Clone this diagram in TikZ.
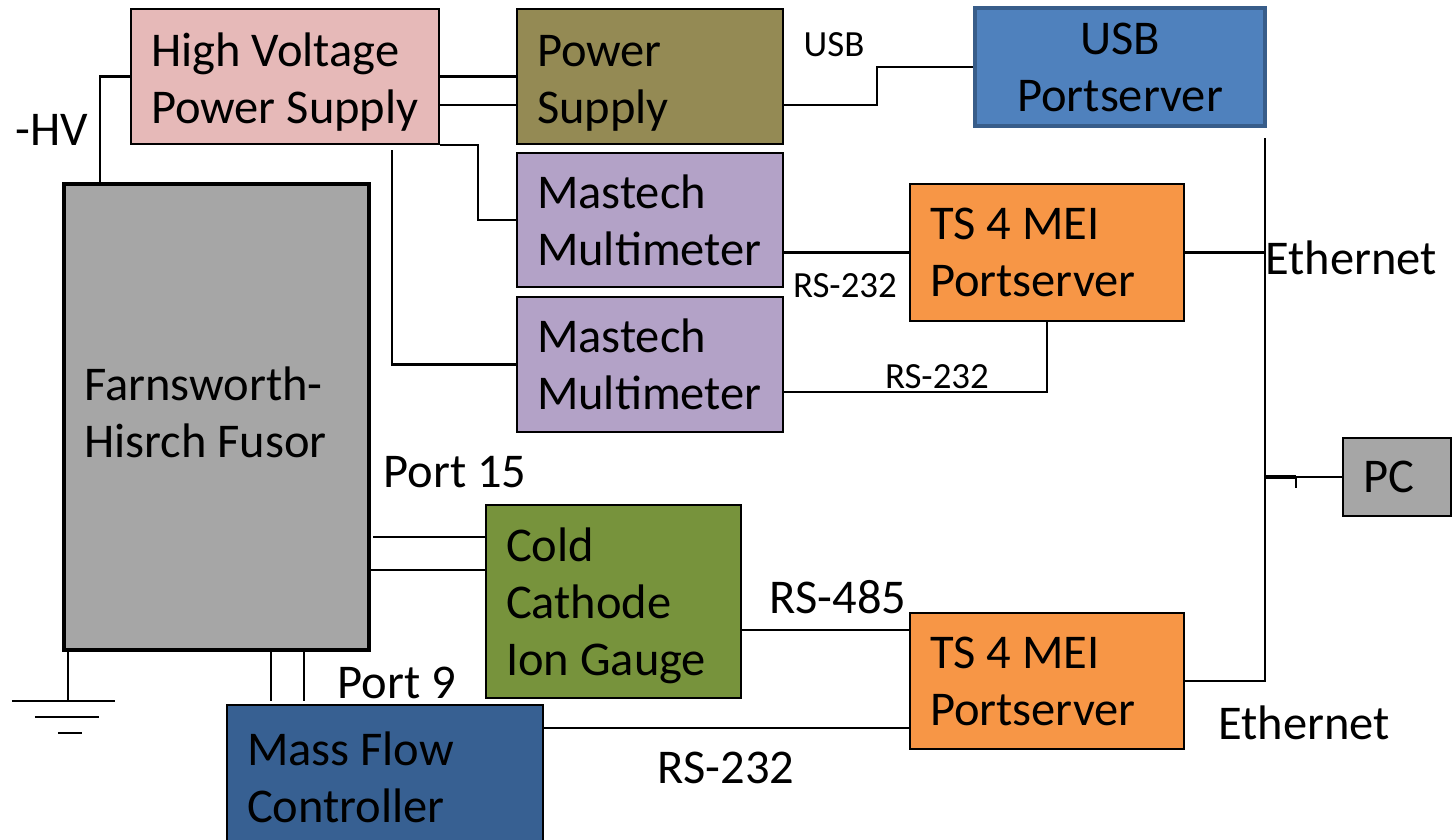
\documentclass[tikz,border=0pt]{standalone}
\usepackage{fontspec}
\setmainfont{Carlito}
\definecolor{hvpink}{HTML}{E6B9B8}
\definecolor{olive}{HTML}{948A54}
\definecolor{mastech}{HTML}{B3A2C7}
\definecolor{tsorange}{HTML}{F79646}
\definecolor{usbblue}{HTML}{4F81BD}
\definecolor{usbedge}{HTML}{385D8A}
\definecolor{mfcblue}{HTML}{376092}
\definecolor{gauge}{HTML}{77933C}
\definecolor{fusorgray}{HTML}{A6A6A6}
\tikzset{
	blk/.style={draw=black,line width=0.6pt,inner xsep=0.2cm,inner ysep=0pt,align=flush left,font=\fontsize{13.8}{16.2}\selectfont},
	lbl/.style={inner sep=0pt,font=\fontsize{13.8}{16.2}\selectfont},
	slbl/.style={inner sep=0pt,font=\fontsize{10.5}{12.6}\selectfont},
	wire/.style={line width=0.6pt}
}
\begin{document}
\begin{tikzpicture}[y=-1cm,line join=miter]
		\useasboundingbox (0,0) rectangle (14.53,8.39);
		% boxes
		\node[blk,fill=hvpink,text width=2.68cm,text height=0.44cm,minimum height=1.35cm] (hvps) at (2.85,0.765) {High Voltage\\Power Supply};
		\node[blk,fill=olive,text width=2.26cm,text height=0.44cm,minimum height=1.35cm] (psu) at (6.50,0.765) {Power\\Supply};
		\node[blk,fill=usbblue,draw=usbedge,line width=0.9pt,align=center,text width=2.50cm,minimum height=1.18cm] (usbps) at (11.20,0.67) {USB\\Portserver};
		\node[blk,fill=mastech,text width=2.26cm,minimum height=1.34cm] (mm1) at (6.50,2.20) {Mastech\\Multimeter};
		\node[blk,fill=mastech,text width=2.26cm,minimum height=1.35cm] (mm2) at (6.50,3.645) {Mastech\\Multimeter};
		\node[blk,fill=tsorange,text width=2.34cm,minimum height=1.37cm] (ts1) at (10.47,2.525) {TS 4 MEI\\Portserver};
		\node[blk,fill=tsorange,text width=2.34cm,minimum height=1.36cm] (ts2) at (10.47,6.81) {TS 4 MEI\\Portserver};
		\node[blk,fill=fusorgray,text width=0.68cm,minimum height=0.78cm] (pc) at (13.97,4.77) {PC};
		\node[blk,fill=fusorgray,line width=1.4pt,text width=2.65cm,text height=0.24cm,minimum height=4.66cm] (fusor) at (2.165,4.17) {Farnsworth-\\Hisrch Fusor};
		\node[blk,fill=gauge,text width=2.15cm,text height=0.42cm,minimum height=1.93cm] (ccg) at (6.135,6.015) {Cold\\Cathode\\Ion Gauge};
		\node[blk,fill=mfcblue,text width=2.76cm,minimum height=1.45cm] (mfc) at (3.85,7.775) {Mass Flow\\Controller};
		% labels
		\node[lbl] (hv) at (0.52,1.30) {-HV};
		\node[slbl] (usb) at (8.34,0.45) {USB};
		\node[slbl] (rs1) at (8.45,2.86) {RS-232};
		\node[slbl] (rs2) at (9.37,3.77) {RS-232};
		\node[lbl] (eth1) at (13.51,2.58) {Ethernet};
		\node[lbl] (eth2) at (13.04,7.23) {Ethernet};
		\node[lbl] (p15) at (4.55,4.72) {Port 15};
		\node[lbl] (rs485) at (8.38,5.97) {RS-485};
		\node[lbl] (p9) at (3.97,6.83) {Port 9};
		\node[lbl] (rs3) at (7.26,7.68) {RS-232};
		% connectors
		\coordinate (ethtop) at (12.65,1.38);
		\coordinate (hvtap) at (3.92,1.50);
		\coordinate (gnd) at (0.68,7.01);
		\draw[wire] (hvps.west) -| (fusor.north -| 1.00,0);
		\draw[wire] (hvps.east) -- (psu.west);
		\draw[wire] (hvps.east |- 0,1.05) -- (psu.west |- 0,1.05);
		\draw[wire] (hvps.south east) -| (4.78,2.20) -- (mm1.west);
		\draw[wire] (hvtap) |- (mm2.west);
		\draw[wire] (psu.east |- 0,1.05) -| (8.77,0.67) -- (usbps.west);
		\draw[wire] (mm1.east |- ts1.west) -- (ts1.west);
		\draw[wire] (ts1.south) |- (mm2.east |- 0,3.92);
		\draw[wire] (ts2.east) -| (ethtop);
		\draw[wire] (ts1.east) -- (ts1.east -| ethtop);
		\draw[wire] (pc.west) -- (pc.west -| ethtop);
		\draw[line width=1.1pt] (pc.west -| ethtop) -- ++(0.31,0) coordinate (pctick);
		\draw[wire] (pctick) -- ++(0,0.11);
		\draw[wire] (3.73,5.37) -- (ccg.west |- 0,5.37);
		\draw[wire] (fusor.east |- 0,5.70) -- (ccg.west |- 0,5.70);
		\draw[wire] (ccg.east |- 0,6.30) -- (ts2.west |- 0,6.30);
		\draw[wire] (mfc.east |- 0,7.28) -- (ts2.west |- 0,7.28);
		\draw[wire] (fusor.south -| 2.71,0) -- (2.71,7.01);
		\draw[wire] (fusor.south -| 3.04,0) -- (3.04,7.01);
		% ground
		\draw[wire] (fusor.south -| gnd) -- (gnd);
		\draw[wire] (gnd) ++(-0.56,0) -- ++(1.03,0);
		\draw[wire] (gnd) ++(-0.33,0.16) -- ++(0.64,0);
		\draw[wire] (gnd) ++(-0.10,0.32) -- ++(0.24,0);
	\end{tikzpicture}
\end{document}
